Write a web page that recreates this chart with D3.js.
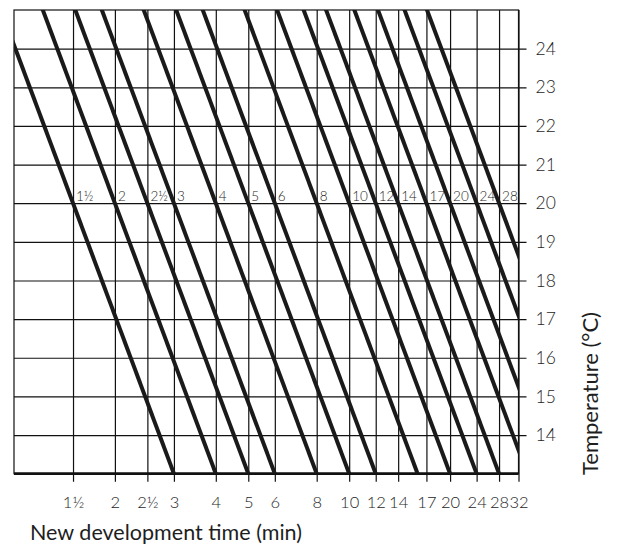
<!DOCTYPE html>
<html>
<head>
<meta charset="utf-8">
<script src="https://cdn.jsdelivr.net/npm/d3@7"></script>
<style>
  html, body { margin: 0; padding: 0; background: #fff; }
  svg { display: block; }
  text { font-family: Lato, "Open Sans", sans-serif; fill: #1e1e1e; }
</style>
</head>
<body>
<svg id="chart" width="621" height="557"></svg>
<script>
// ---- data ----
const lineTimes20 = [1.5, 2, 2.5, 3, 4, 5, 6, 8, 10, 12, 14, 17, 20, 24, 28]; // time at 20 °C
const lineTimes13 = [3, 4, 5, 6, 8, 10, 12, 16, 20, 24, 28, 34, 40, 48, 56]; // time at 13 °C
const lineLabels = ["1½", "2", "2½", "3", "4", "5", "6", "8", "10", "12", "14", "17", "20", "24", "28"];
const xTickValues = [1.5, 2, 2.5, 3, 4, 5, 6, 8, 10, 12, 14, 17, 20, 24, 28, 32];
const xTickLabels = ["1½", "2", "2½", "3", "4", "5", "6", "8", "10", "12", "14", "17", "20", "24", "28", "32"];
const yTickValues = [14, 15, 16, 17, 18, 19, 20, 21, 22, 23, 24];
const xDomain = [1, 32];
const yDomain = [13, 25];
const labelTemp = 20;
const lowTemp = 13;

// ---- layout ----
const svg = d3.select("#chart");
const pLeft = 14, pRight = 518.5, pTop = 10, pBottom = 473.7;

const x = d3.scaleLog().domain(xDomain).range([pLeft, pRight]);
const y = d3.scaleLinear().domain(yDomain).range([pBottom, pTop]);

// clip
svg.append("defs").append("clipPath").attr("id", "plotclip")
  .append("rect").attr("x", pLeft).attr("y", pTop)
  .attr("width", pRight - pLeft).attr("height", pBottom - pTop);

// vertical grid + ticks via axis
const xAxis = d3.axisBottom(x).tickValues(xTickValues)
  .tickFormat((d, i) => xTickLabels[i]).tickSizeOuter(0);
const gx = svg.append("g").attr("transform", `translate(0,${pBottom + 8})`).call(xAxis);
gx.select(".domain").remove();
gx.selectAll(".tick line").attr("stroke", "#111").attr("stroke-width", 1.2)
  .attr("y1", 0).attr("y2", -(pBottom - pTop) - 8);
gx.selectAll(".tick text").attr("y", 15).attr("font-size", 16.5)
  .attr("font-family", "Lato, sans-serif").attr("font-weight", 300).attr("fill", "#222");

// horizontal grid + right ticks
const yAxis = d3.axisRight(y).tickValues(yTickValues).tickFormat(d3.format("d"))
  .tickSizeOuter(0);
const gy = svg.append("g").attr("transform", `translate(${pRight},0)`).call(yAxis);
gy.select(".domain").remove();
gy.selectAll(".tick line").attr("stroke", "#111").attr("stroke-width", 1.2)
  .attr("x1", pLeft - pRight).attr("x2", 8);
gy.selectAll(".tick text").attr("x", 17).attr("font-size", 17.5)
  .attr("font-family", "Lato, sans-serif").attr("font-weight", 300).attr("fill", "#222");

// border
svg.append("rect").attr("x", pLeft).attr("y", pTop)
  .attr("width", pRight - pLeft).attr("height", pBottom - pTop)
  .attr("fill", "none").attr("stroke", "#111").attr("stroke-width", 1.2);
// thick bottom axis line
svg.append("line").attr("x1", pLeft).attr("x2", pRight)
  .attr("y1", pBottom).attr("y2", pBottom)
  .attr("stroke", "#111").attr("stroke-width", 2.8);

// diagonal lines
const gl = svg.append("g").attr("clip-path", "url(#plotclip)");
lineTimes20.forEach((t20, i) => {
  const x1 = x(t20), y1 = y(labelTemp);
  const x2 = x(lineTimes13[i]), y2 = y(lowTemp);
  const k = (x2 - x1) / (y2 - y1);
  const yTop = pTop - 10;
  const xTop = x1 + (yTop - y1) * k;
  gl.append("line")
    .attr("x1", xTop).attr("y1", yTop)
    .attr("x2", x2).attr("y2", y2)
    .attr("stroke", "#1a1a1a").attr("stroke-width", 4);
});

// line labels
svg.append("g").selectAll("text").data(lineTimes20).join("text")
  .attr("x", d => x(d) + 3)
  .attr("y", y(labelTemp) - 2.5)
  .attr("font-size", 13.5)
  .attr("font-weight", 300)
  .attr("fill", "#2a2a2a")
  .text((d, i) => lineLabels[i]);

// axis titles
svg.append("text").attr("x", 30).attr("y", 540)
  .attr("font-size", 21.5).attr("fill", "#111")
  .attr("textLength", 272).attr("lengthAdjust", "spacing")
  .text("New development time (min)");
svg.append("text")
  .attr("transform", `translate(598,${393.5}) rotate(-90)`)
  .attr("text-anchor", "middle")
  .attr("font-size", 22).attr("fill", "#111")
  .attr("textLength", 163).attr("lengthAdjust", "spacing")
  .text("Temperature (°C)");
</script>
</body>
</html>
